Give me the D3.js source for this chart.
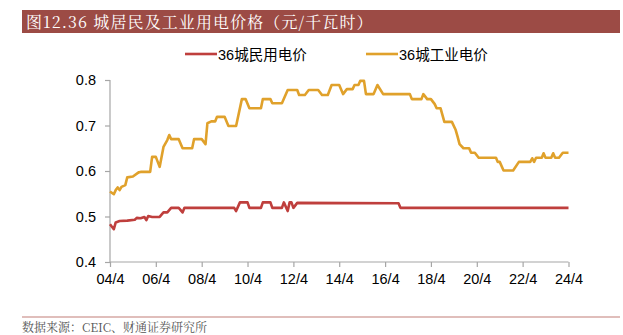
<!DOCTYPE html>
<html><head><meta charset="utf-8">
<script src="https://cdn.jsdelivr.net/npm/d3@7"></script>
<style>
html,body{margin:0;padding:0;background:#fff;}
svg{display:block;}
</style></head>
<body>
<svg id="chart" width="623" height="335"></svg>
<script>
const title = "图12.36 城居民及工业用电价格（元/千瓦时）";
const source = "数据来源：CEIC、财通证券研究所";
const seriesNames = ["36城民用电价", "36城工业电价"];
const seriesColors = ["#BF3F3D", "#E0A12B"];
const yTicks = [0.4, 0.5, 0.6, 0.7, 0.8];
const xTickLabels = ["04/4","06/4","08/4","10/4","12/4","14/4","16/4","18/4","20/4","22/4","24/4"];

const residentialDates = ["2004-04","2004-06","2004-07","2004-09","2005-01","2005-05","2005-06","2005-08","2005-10","2005-11","2005-12","2006-02","2006-06","2006-08","2006-10","2006-12","2007-04","2007-06","2007-07","2009-09","2009-10","2009-12","2010-04","2010-05","2010-11","2010-12","2011-04","2011-05","2011-10","2011-11","2012-01","2012-02","2012-03","2012-04","2012-06","2016-11","2016-12","2024-04"];
const residentialValues = [0.483,0.472,0.487,0.490,0.491,0.493,0.497,0.496,0.499,0.492,0.501,0.499,0.499,0.509,0.509,0.519,0.519,0.509,0.519,0.519,0.512,0.531,0.531,0.519,0.519,0.531,0.531,0.519,0.519,0.531,0.512,0.531,0.531,0.519,0.530,0.529,0.519,0.519];

const industrialDates = ["2004-04","2004-06","2004-07","2004-08","2004-09","2004-10","2004-12","2005-01","2005-04","2005-07","2005-08","2006-01","2006-02","2006-04","2006-06","2006-08","2006-10","2006-11","2006-12","2007-04","2007-06","2007-11","2007-12","2008-04","2008-06","2008-07","2008-09","2008-11","2008-12","2009-04","2009-06","2009-10","2010-01","2010-03","2010-05","2010-11","2010-12","2011-04","2011-05","2011-10","2012-01","2012-06","2012-07","2012-10","2012-12","2013-05","2013-07","2013-10","2013-12","2014-04","2014-06","2014-08","2014-11","2014-12","2015-02","2015-03","2015-05","2015-06","2015-10","2015-12","2016-03","2017-05","2017-06","2017-11","2017-12","2018-02","2018-04","2018-06","2018-07","2018-09","2018-11","2019-03","2019-05","2019-06","2019-07","2019-09","2019-12","2020-01","2020-03","2020-05","2021-02","2021-03","2021-04","2021-06","2021-11","2022-02","2022-08","2022-09","2022-10","2022-11","2023-02","2023-03","2023-04","2023-07","2023-08","2023-09","2023-11","2024-01","2024-04"];
const industrialValues = [0.555,0.549,0.558,0.564,0.558,0.565,0.569,0.586,0.588,0.597,0.598,0.598,0.631,0.631,0.609,0.653,0.668,0.679,0.670,0.670,0.650,0.650,0.670,0.670,0.659,0.705,0.709,0.709,0.719,0.719,0.699,0.699,0.758,0.758,0.738,0.738,0.758,0.758,0.749,0.749,0.778,0.778,0.767,0.767,0.778,0.778,0.767,0.767,0.789,0.789,0.769,0.780,0.780,0.789,0.789,0.798,0.798,0.769,0.769,0.789,0.769,0.769,0.758,0.758,0.769,0.758,0.758,0.747,0.738,0.738,0.708,0.708,0.690,0.675,0.659,0.650,0.650,0.640,0.640,0.629,0.629,0.620,0.620,0.601,0.601,0.620,0.620,0.628,0.620,0.629,0.629,0.639,0.629,0.629,0.639,0.629,0.629,0.640,0.640];

const parse = d3.timeParse("%Y-%m");
const svg = d3.select("#chart");

// Header bar
svg.append("rect").attr("x", 22).attr("y", 10).attr("width", 598).attr("height", 23).attr("fill", "#9C4B45");
svg.append("text").attr("x", 26).attr("y", 27.5).attr("fill", "#fff")
  .attr("font-family", "'Noto Serif CJK SC','Noto Sans CJK SC',serif").attr("font-size", 16)
  .attr("letter-spacing", 1.1)
  .text(title);

const x = d3.scaleTime().domain([parse("2004-04"), parse("2024-04")]).range([110, 568.5]);
const y = d3.scaleLinear().domain([0.4, 0.8]).range([262, 80]);

const axisColor = "#A6A6A6";
const yAxis = svg.append("g").attr("transform", "translate(110,0)")
  .call(d3.axisLeft(y).tickValues(yTicks).tickFormat(d3.format(".1f")).tickSize(5).tickPadding(9));
const xTickDates = xTickLabels.map(s => { const [yy, mm] = s.split("/"); return parse("20" + yy + "-" + String(mm).padStart(2, "0")); });
const xAxis = svg.append("g").attr("transform", "translate(0,262)")
  .call(d3.axisBottom(x).tickValues(xTickDates).tickFormat((d, i) => xTickLabels[i]).tickSize(5).tickPadding(7));
[yAxis, xAxis].forEach(g => {
  g.select(".domain").attr("stroke", axisColor).attr("stroke-width", 1.2);
  g.selectAll(".tick line").attr("stroke", axisColor).attr("stroke-width", 1.2);
  g.selectAll(".tick text").attr("fill", "#000").attr("font-family", "'Liberation Sans',Arial,sans-serif").attr("font-size", 14.5);
});
xAxis.select(".domain").attr("d", `M110,0H${x(parse("2024-04"))}`);
yAxis.select(".domain").attr("d", `M0,${y(0.8)}V${y(0.4)}`);

const line = d3.line().x(d => x(d.date)).y(d => y(d.value));
const series = [
  residentialDates.map((d, i) => ({ date: parse(d), value: residentialValues[i] })),
  industrialDates.map((d, i) => ({ date: parse(d), value: industrialValues[i] }))
];
series.forEach((s, i) => {
  svg.append("path").datum(s).attr("d", line).attr("fill", "none")
    .attr("stroke", seriesColors[i]).attr("stroke-width", 2.6).attr("stroke-linejoin", "round");
});

// Legend
const legendX = [185, 366];
seriesNames.forEach((n, i) => {
  svg.append("line").attr("x1", legendX[i]).attr("x2", legendX[i] + 32).attr("y1", 54).attr("y2", 54)
    .attr("stroke", seriesColors[i]).attr("stroke-width", 2.6);
  svg.append("text").attr("x", legendX[i] + 33).attr("y", 59.5)
    .attr("font-family", "'Liberation Sans','Noto Sans CJK SC',sans-serif").attr("font-size", 14.5)
    .attr("fill", "#000").text(n);
});

// Footer
svg.append("line").attr("x1", 22).attr("x2", 620).attr("y1", 317).attr("y2", 317)
  .attr("stroke", "#D6A8A4").attr("stroke-width", 1.5);
svg.append("text").attr("x", 22).attr("y", 332).attr("fill", "#555")
  .attr("font-family", "'Noto Serif CJK SC','Noto Sans CJK SC',serif").attr("font-size", 12)
  .text(source);
</script>
</body></html>
